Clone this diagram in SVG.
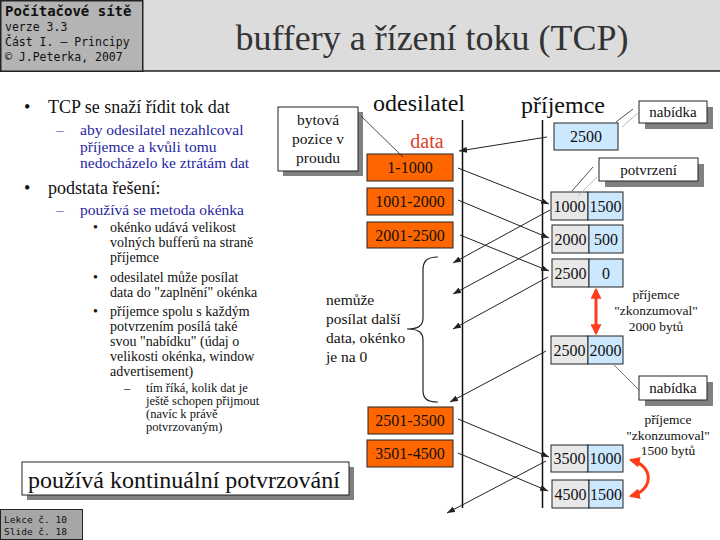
<svg xmlns="http://www.w3.org/2000/svg" width="720" height="540" viewBox="0 0 720 540">
<style>
.serif{font-family:"Liberation Serif","Times New Roman",serif;fill:#111}
.mono{font-family:"DejaVu Sans Mono","Liberation Mono",monospace;fill:#111}
.blue{fill:#1f1fa0}
.lvl1{font-size:18px}
.lvl2{font-size:15.5px}
.lvl3{font-size:14px}
.lvl4{font-size:12.5px}
.obox{fill:#ff6600;stroke:#222;stroke-width:1}
.gcell{fill:#e8e8e8;stroke:#222;stroke-width:1}
.bcell{fill:#cce8ff;stroke:#222;stroke-width:1}
.callout{fill:#fff;stroke:#222;stroke-width:1}
.shadow{fill:#808080}
.num{font-size:16px;text-anchor:middle}
.arr{stroke:#222;stroke-width:1;fill:none;marker-end:url(#ah)}
.redarr{stroke:#ff3d1a;stroke-width:3;fill:none;marker-start:url(#rh);marker-end:url(#rh)}
</style>
<defs>
<marker id="ah" viewBox="0 0 8 6" refX="8" refY="3" markerWidth="8" markerHeight="6" markerUnits="userSpaceOnUse" orient="auto"><path d="M0,0 L8,3 L0,6 z" fill="#222"/></marker>
<marker id="rh" viewBox="0 0 10 10" refX="8" refY="5" markerWidth="11" markerHeight="11" markerUnits="userSpaceOnUse" orient="auto-start-reverse"><path d="M0,0 L10,5 L0,10 z" fill="#ff3d1a"/></marker>
</defs>
<rect x="0" y="0" width="720" height="540" fill="#fff"/>
<g id="header">
<rect x="143" y="0" width="577" height="71" fill="#dcdcdc"/>
<line x1="143" y1="71" x2="720" y2="71" stroke="#222" stroke-width="1.5"/>
<rect x="0.75" y="0.75" width="142" height="70.5" fill="#b4b4b4" stroke="#222" stroke-width="1.5"/>
<text class="mono" x="5" y="16" font-size="14" font-weight="bold">Počítačové sítě</text>
<text class="mono" x="5" y="31" font-size="11.5">verze 3.3</text>
<text class="mono" x="5" y="46" font-size="11.5">Část I. – Principy</text>
<text class="mono" x="5" y="61" font-size="11.5">© J.Peterka, 2007</text>
<text class="serif" x="432" y="50" font-size="36" text-anchor="middle" style="fill:#333">buffery a řízení toku (TCP)</text>
</g>
<g id="bullets">
<text class="serif lvl1" x="24" y="113">•</text>
<text class="serif lvl1" x="48" y="113">TCP se snaží řídit tok dat</text>
<text class="serif lvl2 blue" x="56" y="135">–</text>
<text class="serif lvl2 blue" x="80" y="135">aby odesilatel nezahlcoval</text>
<text class="serif lvl2 blue" x="80" y="152">příjemce a kvůli tomu</text>
<text class="serif lvl2 blue" x="80" y="168">nedocházelo ke ztrátám dat</text>
<text class="serif lvl1" x="24" y="194">•</text>
<text class="serif lvl1" x="48" y="194">podstata řešení:</text>
<text class="serif lvl2 blue" x="56" y="215">–</text>
<text class="serif lvl2 blue" x="80" y="215">používá se metoda okénka</text>
<text class="serif lvl3" x="93" y="232">•</text>
<text class="serif lvl3" x="110" y="232">okénko udává velikost</text>
<text class="serif lvl3" x="110" y="247">volných bufferů na straně</text>
<text class="serif lvl3" x="110" y="262">příjemce</text>
<text class="serif lvl3" x="93" y="282">•</text>
<text class="serif lvl3" x="110" y="282">odesilatel může posílat</text>
<text class="serif lvl3" x="110" y="297">data do "zaplnění" okénka</text>
<text class="serif lvl3" x="93" y="316">•</text>
<text class="serif lvl3" x="110" y="316">příjemce spolu s každým</text>
<text class="serif lvl3" x="110" y="331">potvrzením posílá také</text>
<text class="serif lvl3" x="110" y="346">svou "nabídku" (údaj o</text>
<text class="serif lvl3" x="110" y="361">velikosti okénka, window</text>
<text class="serif lvl3" x="110" y="376">advertisement)</text>
<text class="serif lvl4" x="124" y="392">–</text>
<text class="serif lvl4" x="146" y="392">tím říká, kolik dat je</text>
<text class="serif lvl4" x="146" y="405">ještě schopen přijmout</text>
<text class="serif lvl4" x="146" y="418">(navíc k právě</text>
<text class="serif lvl4" x="146" y="431">potvrzovaným)</text>
</g>
<g id="kontinualni">
<rect class="shadow" x="27" y="467" width="327" height="33"/>
<rect class="callout" x="22" y="462" width="327" height="33"/>
<text class="serif" x="28" y="488" font-size="24">používá kontinuální potvrzování</text>
</g>
<g id="footer">
<rect x="0.5" y="509.5" width="82" height="30" fill="#a6a6a6" stroke="#222" stroke-width="1"/>
<text class="mono" x="4" y="523" font-size="9.5">Lekce č. 10</text>
<text class="mono" x="4" y="535" font-size="9.5">Slide č. 18</text>
</g>
<g id="lifelines">
<line x1="462.5" y1="120" x2="462.5" y2="508" stroke="#111" stroke-width="1.5"/>
<line x1="542.5" y1="120" x2="542.5" y2="508" stroke="#111" stroke-width="1.5"/>
<text class="serif" x="419" y="111" font-size="24" text-anchor="middle">odesilatel</text>
<text class="serif" x="563" y="113" font-size="24" text-anchor="middle">příjemce</text>
<text class="serif" x="427" y="148" font-size="20" text-anchor="middle" style="fill:#e0402a">data</text>
</g>
<g id="seg1"><rect class="obox" x="367" y="154" width="86" height="27"/><text class="serif num" x="410" y="173">1-1000</text></g>
<g id="seg2"><rect class="obox" x="367" y="188" width="86" height="27"/><text class="serif num" x="410" y="207">1001-2000</text></g>
<g id="seg3"><rect class="obox" x="367" y="222" width="86" height="26"/><text class="serif num" x="410" y="241">2001-2500</text></g>
<g id="seg4"><rect class="obox" x="368" y="407" width="85" height="27"/><text class="serif num" x="410" y="426">2501-3500</text></g>
<g id="seg5"><rect class="obox" x="367" y="440" width="86" height="27"/><text class="serif num" x="410" y="459">3501-4500</text></g>
<g id="bytova">
<rect class="shadow" x="283" y="112" width="80" height="64"/>
<rect class="callout" x="278" y="107" width="80" height="64"/>
<text class="serif" x="318" y="125" font-size="15.5" text-anchor="middle">bytová</text>
<text class="serif" x="318" y="144" font-size="15.5" text-anchor="middle">pozice v</text>
<text class="serif" x="318" y="163" font-size="15.5" text-anchor="middle">proudu</text>
</g>
<g id="win0"><rect class="bcell" x="554" y="123" width="64" height="27"/><text class="serif num" x="586" y="142">2500</text></g>
<g id="ack1"><rect class="gcell" x="551" y="192" width="37" height="28"/><rect class="bcell" x="588" y="192" width="35" height="28"/><text class="serif num" x="569.5" y="212">1000</text><text class="serif num" x="605.5" y="212">1500</text></g>
<g id="ack2"><rect class="gcell" x="552" y="225" width="37" height="28"/><rect class="bcell" x="589" y="225" width="34" height="28"/><text class="serif num" x="570.5" y="245">2000</text><text class="serif num" x="606" y="245">500</text></g>
<g id="ack3"><rect class="gcell" x="552" y="259" width="37" height="28"/><rect class="bcell" x="589" y="259" width="34" height="28"/><text class="serif num" x="570.5" y="279">2500</text><text class="serif num" x="606" y="279">0</text></g>
<g id="ack4"><rect class="gcell" x="551" y="336" width="37" height="28"/><rect class="bcell" x="588" y="336" width="35" height="28"/><text class="serif num" x="569.5" y="356">2500</text><text class="serif num" x="605.5" y="356">2000</text></g>
<g id="ack5"><rect class="gcell" x="551" y="445" width="37" height="27"/><rect class="bcell" x="588" y="445" width="35" height="27"/><text class="serif num" x="569.5" y="464">3500</text><text class="serif num" x="605.5" y="464">1000</text></g>
<g id="ack6"><rect class="gcell" x="552" y="480" width="37" height="28"/><rect class="bcell" x="589" y="480" width="34" height="28"/><text class="serif num" x="570.5" y="500">4500</text><text class="serif num" x="606" y="500">1500</text></g>
<g id="nabidka1">
<rect class="shadow" x="645" y="107" width="68" height="22"/>
<rect class="callout" x="639" y="101" width="68" height="22"/>
<text class="serif" x="673" y="117" font-size="15" text-anchor="middle">nabídka</text>
</g>
<g id="potvrzeni">
<rect class="shadow" x="605" y="164" width="99" height="23"/>
<rect class="callout" x="599" y="158" width="99" height="23"/>
<text class="serif" x="648.5" y="175" font-size="15" text-anchor="middle">potvrzení</text>
</g>
<g id="nabidka2">
<rect class="shadow" x="645" y="382" width="68" height="24"/>
<rect class="callout" x="639" y="376" width="68" height="24"/>
<text class="serif" x="673" y="393" font-size="15" text-anchor="middle">nabídka</text>
</g>
<g id="konzum1">
<text class="serif" x="656" y="299" font-size="13.5" text-anchor="middle">příjemce</text>
<text class="serif" x="656" y="315" font-size="13.5" text-anchor="middle">"zkonzumoval"</text>
<text class="serif" x="656" y="331" font-size="13.5" text-anchor="middle">2000 bytů</text>
</g>
<g id="konzum2">
<text class="serif" x="668" y="424" font-size="13.5" text-anchor="middle">příjemce</text>
<text class="serif" x="668" y="440" font-size="13.5" text-anchor="middle">"zkonzumoval"</text>
<text class="serif" x="668" y="455" font-size="13.5" text-anchor="middle">1500 bytů</text>
</g>
<g id="nemuze">
<path d="M438,257 C426,257 423,262 423,270 L423,318 C423,326 418,329 407,329 C418,329 423,332 423,340 L423,390 C423,398 426,402 438,402" fill="none" stroke="#222" stroke-width="1.2"/>
<text class="serif" x="326" y="305" font-size="15.5">nemůže</text>
<text class="serif" x="326" y="324" font-size="15.5">posílat další</text>
<text class="serif" x="326" y="343" font-size="15.5">data, okénko</text>
<text class="serif" x="326" y="362" font-size="15.5">je na 0</text>
</g>
<g id="connectors">
<line class="arr" x1="547" y1="137" x2="459" y2="151"/>
<line class="arr" x1="458" y1="168" x2="549" y2="204"/>
<line class="arr" x1="458" y1="200" x2="549" y2="238"/>
<line class="arr" x1="460" y1="235" x2="549" y2="271"/>
<line class="arr" x1="550" y1="210" x2="453" y2="263"/>
<line class="arr" x1="550" y1="242" x2="453" y2="294"/>
<line class="arr" x1="548" y1="277" x2="453" y2="329"/>
<line class="arr" x1="546" y1="351" x2="450" y2="402"/>
<line class="arr" x1="458" y1="419" x2="549" y2="457"/>
<line class="arr" x1="458" y1="453" x2="548" y2="491"/>
<line class="arr" x1="546" y1="461" x2="447" y2="513"/>
<line x1="361" y1="116" x2="403" y2="157" stroke="#222" stroke-width="0.8"/>
<line x1="616" y1="122" x2="633" y2="109" stroke="#222" stroke-width="0.8"/>
<line x1="622" y1="127" x2="638" y2="113" stroke="#aaa" stroke-width="0.8"/>
<line x1="572" y1="191" x2="593" y2="167" stroke="#222" stroke-width="0.8"/>
<line x1="578" y1="196" x2="597" y2="177" stroke="#aaa" stroke-width="0.8"/>
<line x1="614" y1="365" x2="639" y2="390" stroke="#555" stroke-width="0.8"/>
<line class="redarr" x1="596" y1="290" x2="596" y2="333"/>
<path class="redarr" d="M631,460 C654,466 654,490 631,496"/>
</g>
</svg>
